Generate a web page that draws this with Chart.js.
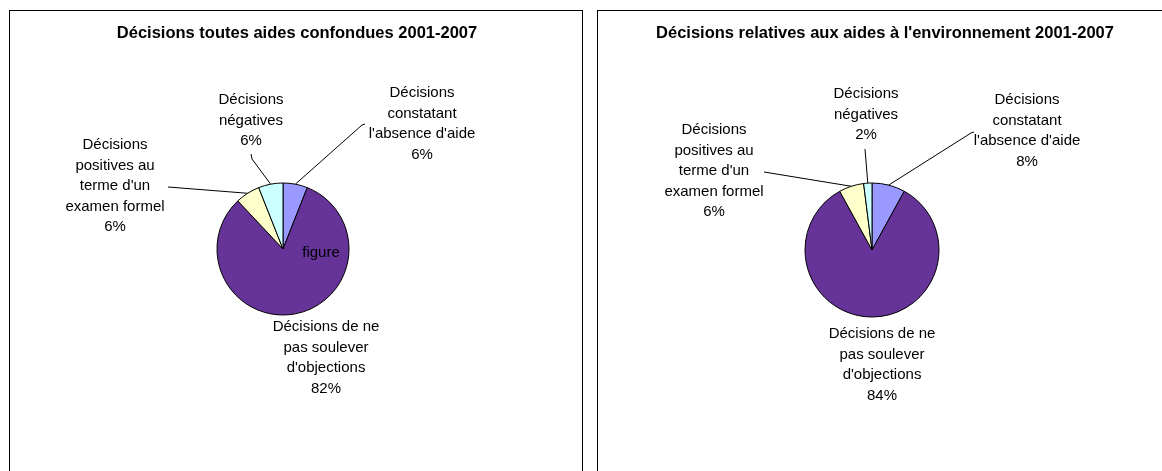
<!DOCTYPE html>
<html lang="fr">
<head>
<meta charset="utf-8">
<title>Décisions 2001-2007</title>
<script src="https://cdn.jsdelivr.net/npm/chart.js@4.4.1/dist/chart.umd.min.js"></script>
<style>
  html, body { margin: 0; padding: 0; background: #fff; width: 1162px; height: 471px; overflow: hidden; }
  .cadre { position: absolute; top: 10px; width: 572px; height: 470px; border: 1px solid #000; border-bottom: none; }
  #cadreToutes { left: 9px; }
  #cadreEnv { left: 597px; }
  canvas { display: block; }
</style>
</head>
<body>
<div class="cadre" id="cadreToutes"><canvas id="graficoToutes" width="572" height="460"></canvas></div>
<div class="cadre" id="cadreEnv"><canvas id="graficoEnv" width="572" height="460"></canvas></div>
<script>
// catégories de décisions (une ligne par élément)
const categories = [
    ['Décisions', 'constatant', "l'absence d'aide"],
    ['Décisions de ne', 'pas soulever', "d'objections"],
    ['Décisions', 'positives au', "terme d'un", 'examen formel'],
    ['Décisions', 'négatives']
];
// parts en %
const valeursToutes = [6, 82, 6, 6];
const valeursEnv = [8, 84, 6, 2];
const couleurs = ['#9999FF', '#663399', '#FFFFCC', '#CCFFFF'];

const police = '"Liberation Sans", Arial, sans-serif';

// étiquettes hors du camembert avec traits de rappel
const etiquettesPlugin = {
    id: 'etiquettes',
    afterDraw(chart, args, opts) {
        const ctx = chart.ctx;
        const arcs = chart.getDatasetMeta(0).data;
        const valeurs = chart.data.datasets[0].data;
        ctx.save();
        ctx.fillStyle = '#000';
        ctx.textAlign = 'center';
        ctx.textBaseline = 'middle';
        ctx.font = 'bold 16.5px ' + police;
        ctx.fillText(opts.titre, 287, 22);

        ctx.font = '15px ' + police;
        ctx.strokeStyle = '#000';
        ctx.lineWidth = 1;
        opts.positions.forEach((pos, i) => {
            const lignes = categories[i].concat(valeurs[i] + '%');
            lignes.forEach((ligne, k) => ctx.fillText(ligne, pos[0], pos[1] + k * 20.5));

            const guide = opts.guides[i];
            if (!guide) return;
            const arc = arcs[i];
            const milieu = (arc.startAngle + arc.endAngle) / 2;
            ctx.beginPath();
            ctx.moveTo(guide[0][0], guide[0][1]);
            guide.slice(1).forEach(p => ctx.lineTo(p[0], p[1]));
            ctx.lineTo(arc.x + arc.outerRadius * Math.cos(milieu), arc.y + arc.outerRadius * Math.sin(milieu));
            ctx.stroke();
        });

        if (opts.texteInterne) {
            ctx.fillText(opts.texteInterne[0], opts.texteInterne[1], opts.texteInterne[2]);
        }
        ctx.restore();
    }
};

function creerCamembert(id, valeurs, rayon, padding, etiquettes) {
    const ctx = document.getElementById(id).getContext('2d');
    return new Chart(ctx, {
        type: 'pie',
        data: {
            labels: categories.map(c => c.join(' ')),
            datasets: [{
                data: valeurs,
                backgroundColor: couleurs,
                borderColor: '#000',
                borderWidth: 1
            }]
        },
        options: {
            responsive: false,
            animation: false,
            radius: rayon,
            layout: { padding: padding },
            plugins: {
                legend: { display: false },
                tooltip: { enabled: false },
                etiquettes: etiquettes
            }
        },
        plugins: [etiquettesPlugin]
    });
}

creerCamembert('graficoToutes', valeursToutes, 66,
    { left: 207, right: 233, top: 172, bottom: 156 },
    {
        titre: 'Décisions toutes aides confondues 2001-2007',
        positions: [[412, 82], [316, 316], [105, 134], [241, 89]],
        guides: [[[355, 113], [352, 114]], null, [[158, 176]], [[241, 143], [242, 148]]],
        texteInterne: ['figure', 311, 242]
    });

creerCamembert('graficoEnv', valeursEnv, 67,
    { left: 207, right: 231, top: 172, bottom: 154 },
    {
        titre: "Décisions relatives aux aides à l'environnement 2001-2007",
        positions: [[429, 89], [284, 323], [116, 119], [268, 83]],
        guides: [[[376, 121], [373, 122]], null, [[166, 161]], [[267, 138]]],
        texteInterne: null
    });
</script>
</body>
</html>
